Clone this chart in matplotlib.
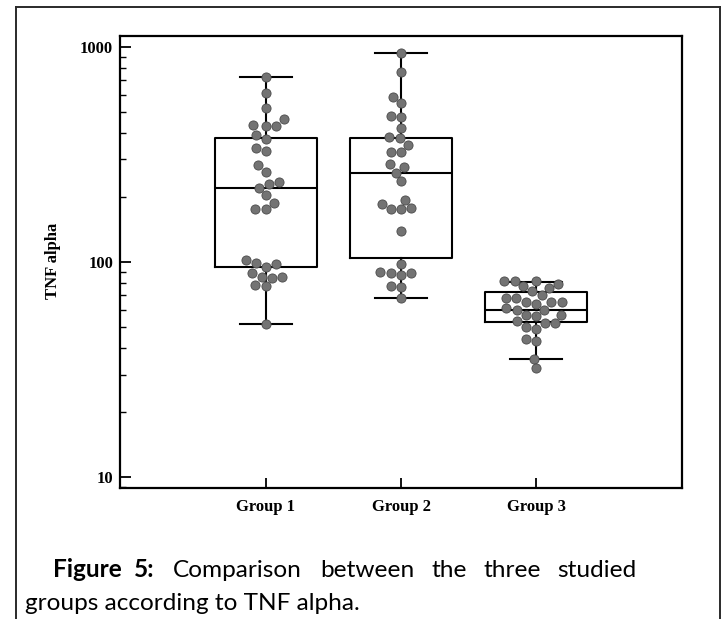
import numpy as np
import pandas as pd
import matplotlib
matplotlib.use("Agg")
import matplotlib.pyplot as plt
from matplotlib.lines import Line2D
from matplotlib.ticker import FixedLocator, LogLocator, NullFormatter
import seaborn as sns

# data
groups = ["Group 1", "Group 2", "Group 3"]

group1 = [726, 613, 519, 461, 432, 430, 428, 390, 375, 338, 330, 283, 263,
          235, 231, 222, 205, 189, 177, 177, 102, 99, 98, 95, 89, 85, 85, 84,
          78, 77, 51.5]
group2 = [938, 763, 587, 551, 476, 472, 421, 381, 377, 352, 326, 324, 285,
          277, 260, 237, 194, 187, 178, 177, 176, 140, 97.5, 90, 89, 89, 87,
          77, 76.5, 68]
group3 = [82, 82, 82, 79, 77, 76, 73, 70, 68, 68, 65, 65, 65, 64, 61, 60, 60,
          57, 57, 56, 53, 52, 52, 50, 49, 44, 43, 35.5, 32]

# box statistics: whislo, q1, median, q3, whishi
box_lo = [51.5, 68, 35.4]
box_q1 = [95, 105, 52.6]
box_med = [221, 259, 59.8]
box_q3 = [378, 378, 72.5]
box_hi = [726, 938, 80.7]

df = pd.DataFrame({
    "group": [groups[0]] * len(group1) + [groups[1]] * len(group2) + [groups[2]] * len(group3),
    "value": group1 + group2 + group3,
})

fig = plt.figure(figsize=(7.28, 6.19), dpi=100)
ax = fig.add_axes([120 / 728, 1 - 488 / 619, 562 / 728, 452 / 619])
ax.set_yscale("log")

stats = []
for i, g in enumerate(groups):
    stats.append({"label": g, "whislo": box_lo[i], "q1": box_q1[i], "med": box_med[i],
                  "q3": box_q3[i], "whishi": box_hi[i], "fliers": []})

line_kw = dict(color="black", linewidth=1.5)
ax.bxp(stats, positions=[0, 1, 2], widths=0.75, capwidths=0.38, showfliers=False,
       boxprops=line_kw, whiskerprops=line_kw, capprops=line_kw,
       medianprops=line_kw, manage_ticks=False, zorder=2)

sns.swarmplot(data=df, x="group", y="value", order=groups, ax=ax, size=6.6,
              color="#737373", edgecolor="#4a4a4a", linewidth=0.6, zorder=3)

ax.set_xlim(-1.08, 3.08)
ax.set_ylim(8.9, 1125)
ax.set_xlabel("")
ax.set_ylabel("")

ax.xaxis.set_major_locator(FixedLocator([0, 1, 2]))
ax.set_xticklabels(groups)
ax.yaxis.set_major_locator(FixedLocator([10, 100, 1000]))
ax.set_yticklabels(["10", "100", "1000"])
ax.yaxis.set_minor_locator(LogLocator(base=10, subs=np.arange(2, 10)))
ax.yaxis.set_minor_formatter(NullFormatter())

ax.tick_params(axis="x", which="major", direction="in", length=7, width=1.3, pad=8)
ax.tick_params(axis="y", which="major", direction="in", length=8, width=1.3, pad=5)
ax.tick_params(axis="y", which="minor", direction="in", length=4.5, width=1.0)
ax.tick_params(axis="x", which="minor", bottom=False)
for lab in ax.get_xticklabels() + ax.get_yticklabels():
    lab.set_fontfamily("Liberation Serif")
    lab.set_fontweight("bold")
    lab.set_fontsize(12)
for sp in ax.spines.values():
    sp.set_linewidth(1.6)

fig.text(53 / 728, 1 - 261 / 619, "TNF alpha", rotation=90, ha="center", va="center",
         family="Liberation Serif", weight="bold", fontsize=12)

# outer frame of the figure cell
frame_kw = dict(color="#2a2a2a", linewidth=1.4, transform=fig.transFigure)
fig.add_artist(Line2D([16 / 728, 16 / 728], [0, 1 - 7 / 619], **frame_kw))
fig.add_artist(Line2D([16 / 728, 720 / 728], [1 - 7 / 619, 1 - 7 / 619], **frame_kw))
fig.add_artist(Line2D([720 / 728, 720 / 728], [0, 1 - 7 / 619], **frame_kw))

# caption (justified first line)
cap_kw = dict(family="Lato", fontsize=17.6, va="baseline", ha="left")
fig.text(53 / 728, 1 - 577 / 619, "Figure", weight="bold", **cap_kw)
fig.text(134 / 728, 1 - 577 / 619, "5:", weight="bold", **cap_kw)
words = ["Comparison", "between", "the", "three", "studied"]
xs = [173, 320, 431, 483, 557]
for w, x in zip(words, xs):
    fig.text(x / 728, 1 - 577 / 619, w, **cap_kw)
fig.text(25 / 728, 1 - 610 / 619, "groups according to TNF alpha.", **cap_kw)

fig.savefig("out.png", dpi=100)
